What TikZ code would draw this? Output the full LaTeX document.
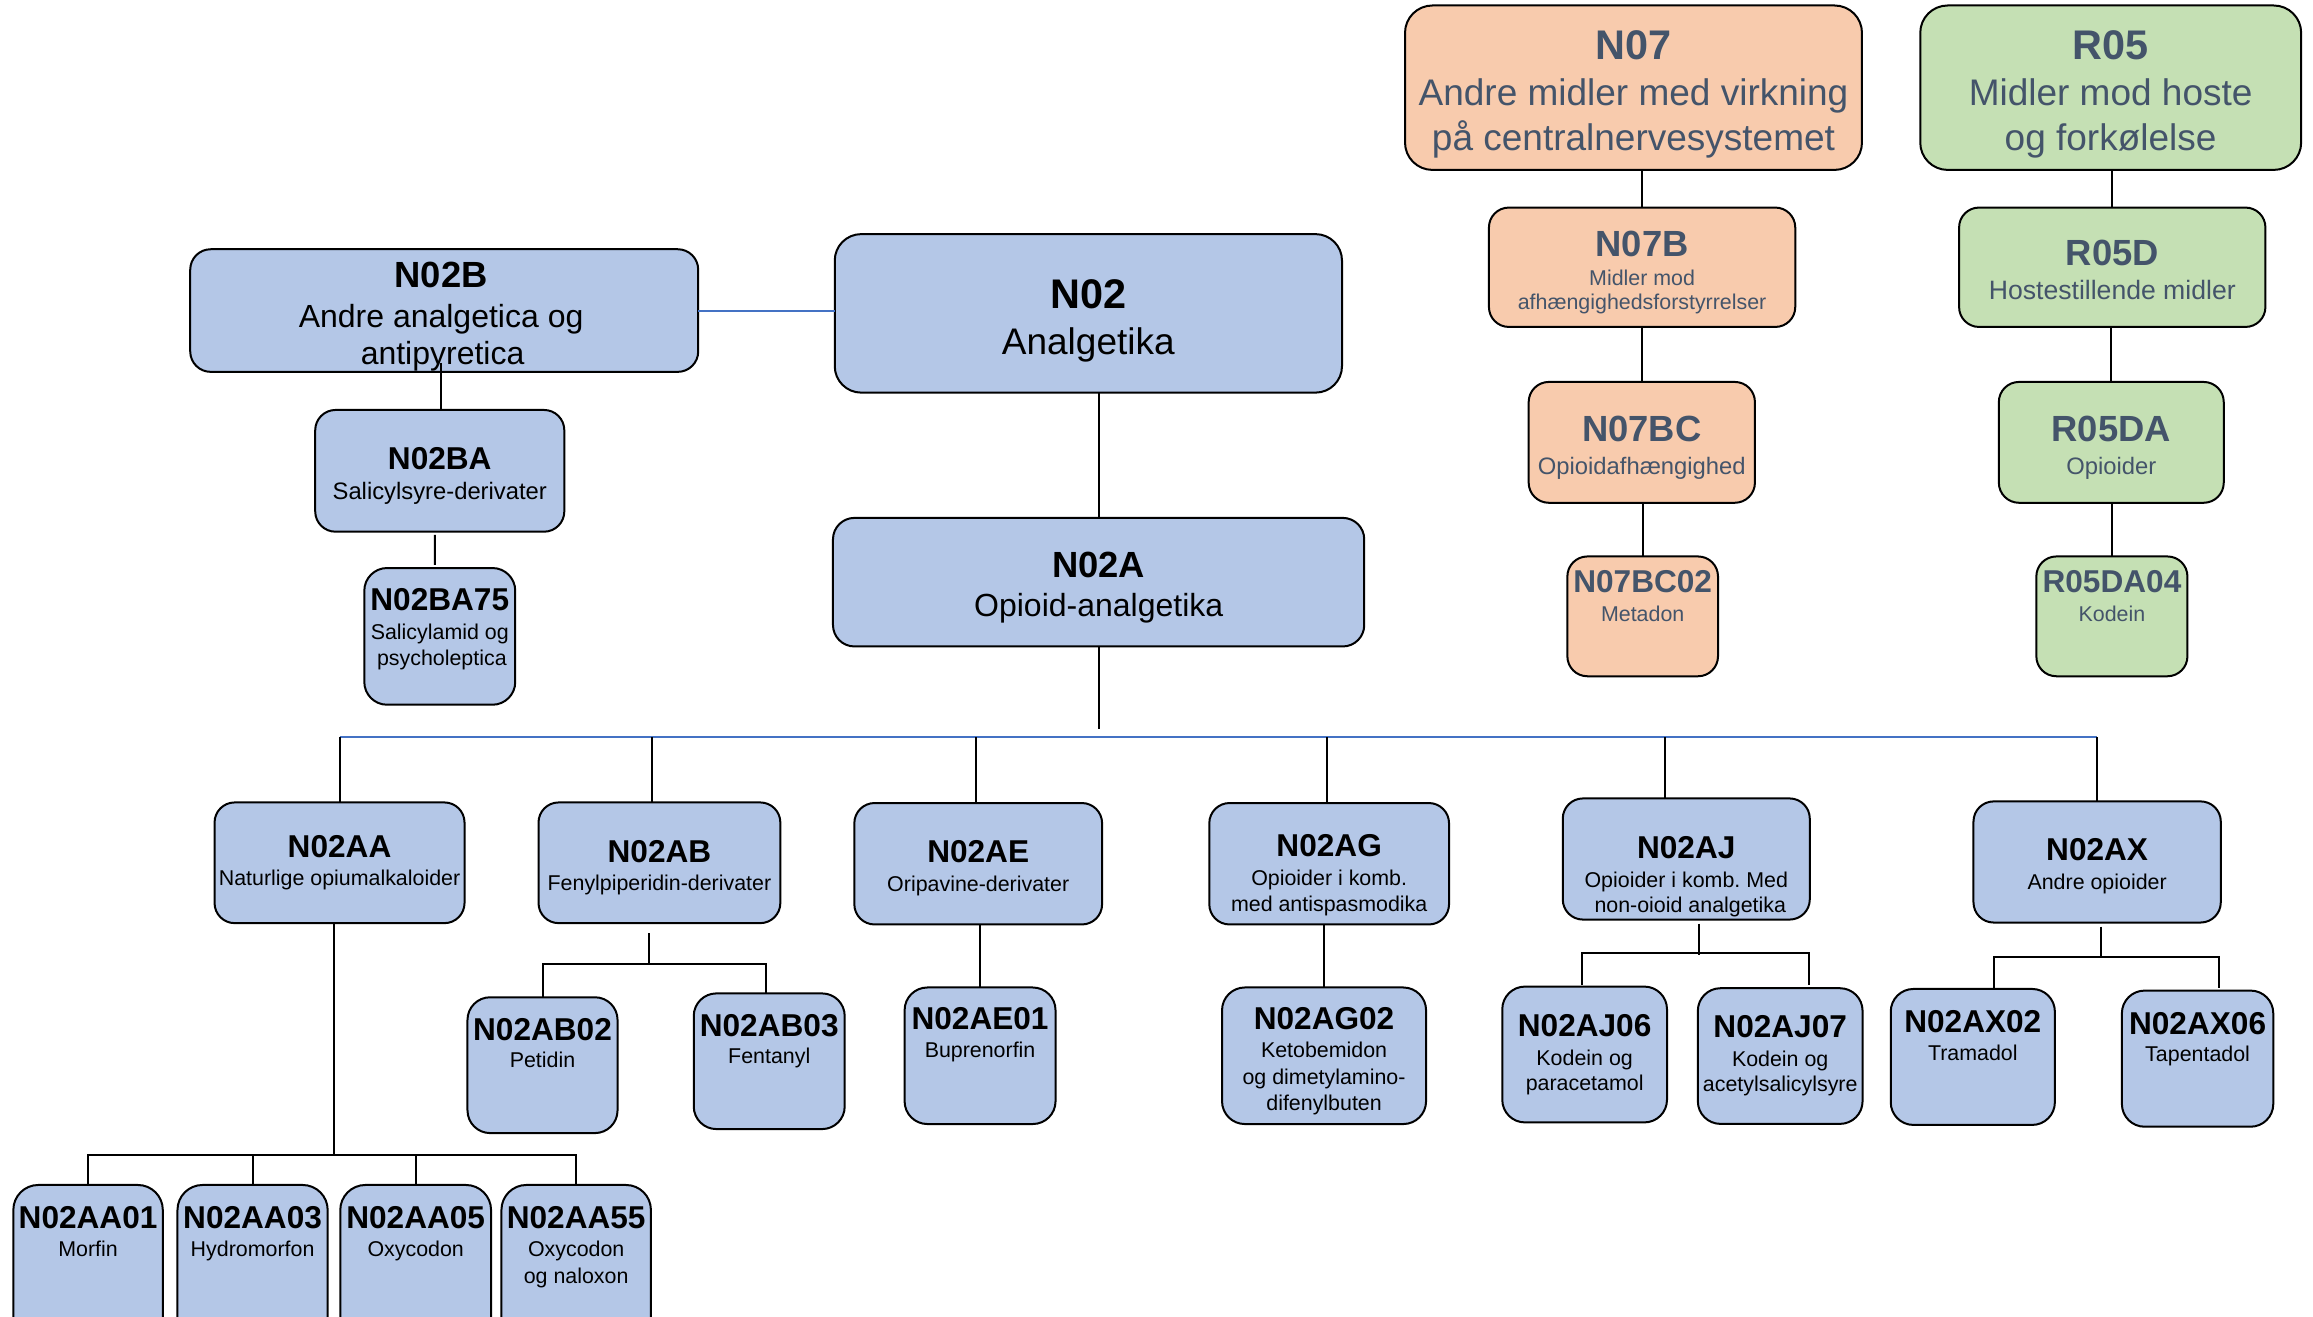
\documentclass[tikz,border=0pt]{standalone}
\usepackage{fontspec}
\setmainfont{Liberation Sans}
\frenchspacing
\definecolor{boxblue}{HTML}{B4C7E7}
\definecolor{boxpeach}{HTML}{F8CBAD}
\definecolor{boxgreen}{HTML}{C5E0B4}
\definecolor{slate}{HTML}{44546A}
\definecolor{linkblue}{HTML}{4472C4}
\newcommand\fntA{\fontsize{20.7pt}{24pt}\selectfont\bfseries}
\newcommand\fntB{\fontsize{18.5pt}{22pt}\selectfont}
\newcommand\fntC{\fontsize{18.2pt}{22pt}\selectfont\bfseries}
\newcommand\fntD{\fontsize{16pt}{19pt}\selectfont}
\newcommand\fntE{\fontsize{15.8pt}{19pt}\selectfont\bfseries}
\newcommand\fntF{\fontsize{13.3pt}{16pt}\selectfont}
\newcommand\fntG{\fontsize{11.9pt}{14pt}\selectfont}
\newcommand\fntH{\fontsize{10.7pt}{13pt}\selectfont}
\newcommand\rbox[6]{%
  \pgfmathsetmacro\rbw{#5-#3}%
  \pgfmathsetmacro\rbh{#6-#4}%
  \pgfmathsetmacro\rbr{0.1667*min(\rbw,\rbh)}%
  \node[#2, minimum width=\rbw*0.74135pt, minimum height=\rbh*0.74135pt,
        rounded corners=\rbr*0.74135pt] (#1) at ({(#3+#5)/2},{(#4+#6)/2}) {};}
\tikzset{
  boxbase/.style={draw=black, line width=1pt, rectangle, inner sep=0pt, outer sep=0pt},
  bbox/.style={boxbase, fill=boxblue},
  pbox/.style={boxbase, fill=boxpeach},
  gbox/.style={boxbase, fill=boxgreen},
  conn/.style={line width=1pt, draw=black},
  bconn/.style={line width=1pt, draw=linkblue},
  tbase/.style={anchor=base, inner sep=0pt, outer sep=0pt},
  tA/.style={tbase, font=\fntA, yshift=-7.43pt},
  tB/.style={tbase, font=\fntB, yshift=-6.64pt},
  tC/.style={tbase, font=\fntC, yshift=-6.5pt},
  tD/.style={tbase, font=\fntD, yshift=-5.73pt},
  tE/.style={tbase, font=\fntE, yshift=-5.65pt},
  tF/.style={tbase, font=\fntF, yshift=-4.75pt},
  tG/.style={tbase, font=\fntG, yshift=-4.27pt},
  tH/.style={tbase, font=\fntH, yshift=-3.82pt},
}
\begin{document}
\begin{tikzpicture}[x=0.74135pt, y=-0.74135pt]
\useasboundingbox (0,0) rectangle (1560,888.25);

% ---------- boxes ----------
\rbox{N07}{pbox}{947.6}{3.7}{1255.8}{114.6}
\rbox{R05}{gbox}{1295.1}{3.7}{1552}{114.6}
\rbox{N07B}{pbox}{1004.2}{140}{1210.8}{220.5}
\rbox{R05D}{gbox}{1321.3}{140}{1527.9}{220.5}
\rbox{N07BC}{pbox}{1031}{257.6}{1183.6}{339.1}
\rbox{R05DA}{gbox}{1348.1}{257.6}{1499.8}{339.1}
\rbox{N07BC02}{pbox}{1057.1}{375.3}{1158.7}{456.1}
\rbox{R05DA04}{gbox}{1373.4}{375.3}{1475.3}{456.1}

\rbox{N02B}{bbox}{128.3}{168.1}{470.9}{250.8}
\rbox{N02}{bbox}{563}{157.9}{905.1}{264.8}
\rbox{N02BA}{bbox}{212.6}{276.5}{380.6}{358.6}
\rbox{N02BA75}{bbox}{245.7}{383.1}{347.5}{475.3}
\rbox{N02A}{bbox}{561.8}{349.3}{920.1}{436}

\rbox{N02AA}{bbox}{144.7}{541.2}{313.3}{622.6}
\rbox{N02AB}{bbox}{363.2}{541.2}{526.3}{622.6}
\rbox{N02AE}{bbox}{576.2}{541.6}{743.3}{623.5}
\rbox{N02AG}{bbox}{815.6}{541.6}{977.3}{623.5}
\rbox{N02AJ}{bbox}{1054}{538.5}{1220.6}{620.2}
\rbox{N02AX}{bbox}{1331}{540.5}{1497.8}{622.2}

\rbox{N02AA01}{bbox}{9}{799.2}{109.8}{920}
\rbox{N02AA03}{bbox}{119.7}{799.2}{221}{920}
\rbox{N02AA05}{bbox}{229.5}{799.2}{331.2}{920}
\rbox{N02AA55}{bbox}{338.2}{799.2}{439}{920}
\rbox{N02AB02}{bbox}{315.3}{672.6}{416.5}{764.2}
\rbox{N02AB03}{bbox}{467.9}{670}{569.7}{761.5}
\rbox{N02AE01}{bbox}{610.1}{666}{711.9}{758.1}
\rbox{N02AG02}{bbox}{824.2}{666}{961.8}{758.1}
\rbox{N02AJ06}{bbox}{1013.2}{665.4}{1124.3}{757}
\rbox{N02AJ07}{bbox}{1145.1}{666.5}{1256.2}{758}
\rbox{N02AX02}{bbox}{1275.2}{667}{1385.9}{758.7}
\rbox{N02AX06}{bbox}{1431.1}{668.1}{1533.2}{759.9}

% ---------- connectors ----------
\draw[conn] (N07B.north) -- (N07B.north |- N07.south);
\draw[conn] (N07BC.north) -- (N07BC.north |- N07B.south);
\draw[conn] (N07BC02.north) -- (N07BC02.north |- N07BC.south);
\draw[conn] (R05D.north) -- (R05D.north |- R05.south);
\draw[conn] (R05DA.north) -- (R05DA.north |- R05D.south);
\draw[conn] (R05DA04.north) -- (R05DA04.north |- R05DA.south);

\draw[bconn] (N02B.east) -- (N02B.east -| N02.west);
\draw[conn] ([xshift=0.7pt,yshift=4.6pt]N02BA.north |- N02B.south) -- ([xshift=0.7pt]N02BA.north);
\draw[conn] ([xshift=-2.4pt,yshift=-1.6pt]N02BA.south) -- ([xshift=-2.4pt,yshift=1.6pt]N02BA75.north);
\draw[conn] (N02A.north) -- (N02A.north |- N02.south);

\draw[conn] (N02A.south) -- ++(0,56) coordinate (busTop);
\coordinate (busL) at (229,496.8);
\coordinate (busR) at (1414.5,496.8);
\draw[bconn] (busL) -- (busR);
\draw[conn] (N02AA.north) -- (N02AA.north |- busL);
\draw[conn] ([xshift=-3.5pt]N02AB.north) coordinate (dAB) -- (dAB |- busL);
\draw[conn] ([xshift=-0.9pt]N02AE.north) coordinate (dAE) -- (dAE |- busL);
\draw[conn] ([xshift=-1.3pt]N02AG.north) coordinate (dAG) -- (dAG |- busL);
\draw[conn] ([xshift=-10.4pt]N02AJ.north) coordinate (dAJ) -- (dAJ |- busL);
\draw[conn] (N02AX.north) -- (N02AX.north |- busR);

% N02AA children
\draw[conn] ([xshift=-3pt]N02AA.south) -- ++(0,156.2);
\draw[conn] (N02AA01.north) -- ++(0,-20.4) -| (N02AA55.north);
\draw[conn] (N02AA03.north) -- ++(0,-20.4);
\draw[conn] (N02AA05.north) -- ++(0,-20.4);
% N02AB children
\draw[conn] ([xshift=-5.4pt,yshift=-5pt]N02AB.south) -- ++(0,20.7);
\draw[conn] (N02AB02.north) -- ++(0,-22.6) -| ([xshift=-1.5pt]N02AB03.north);
% N02AE, N02AG children
\draw[conn] (N02AE01.north) -- (N02AE01.north |- N02AE.south);
\draw[conn] (N02AG02.north) -- (N02AG02.north |- N02AG.south);
% N02AJ children
\draw[conn] ([xshift=6.45pt,yshift=-2pt]N02AJ.south) -- ++(0,21);
\draw[conn] ([xshift=-1.3pt,yshift=0.7pt]N02AJ06.north) -- ++(0,-21.4) -| ([xshift=14.3pt,yshift=1.5pt]N02AJ07.north);
% N02AX children
\draw[conn] ([xshift=1.7pt,yshift=-2pt]N02AX.south) -- ++(0,21.3);
\draw[conn] ([xshift=10.5pt,yshift=0.4pt]N02AX02.north) -- ++(0,-20.7) -| ([xshift=10.5pt,yshift=1.2pt]N02AX06.north);

% ---------- texts ----------
\begin{scope}[every node/.append style={text=slate}]
\node[tA] (tN07a) at (1101.7,30.0) {N07};
\node[tB] (tN07b) at (1101.7,61.9) {Andre midler med virkning};
\node[tB] (tN07c) at (1101.7,92.3) {på centralnervesystemet};
\node[tA] (tR05a) at (1423.5,30.0) {R05};
\node[tB] (tR05b) at (1423.5,61.9) {Midler mod hoste};
\node[tB] (tR05c) at (1423.5,92.3) {og forkølelse};
\node[tC] (tN07Ba) at (1107.5,164.1) {N07B};
\node[tH] (tN07Bb) at (1107.5,187.3) {Midler mod};
\node[tH] (tN07Bc) at (1107.5,203.7) {afhængighedsforstyrrelser};
\node[tC] (tR05Da) at (1424.6,170.3) {R05D};
\node[tF] (tR05Db) at (1424.6,195.7) {Hostestillende midler};
\node[tC] (tN07BCa) at (1107.3,288.9) {N07BC};
\node[tG] (tN07BCb) at (1107.3,314.3) {Opioidafhængighed};
\node[tC] (tR05DAa) at (1424,288.9) {R05DA};
\node[tG] (tR05DAb) at (1424,314.3) {Opioider};
\node[tE] (tN07BC02a) at (1107.9,392.3) {N07BC02};
\node[tH] (tN07BC02b) at (1107.9,414) {Metadon};
\node[tE] (tR05DA04a) at (1424.4,392.3) {R05DA04};
\node[tH] (tR05DA04b) at (1424.4,414) {Kodein};
\end{scope}

\node[tC] (tN02Ba) at (297.5,184.9) {N02B};
\node[tD] (tN02Bb) at (297.5,213.1) {Andre analgetica og};
\node[tD] (tN02Bc) at (298.5,238.4) {antipyretica};
\node[tA] (tN02a) at (734,198.2) {N02};
\node[tB] (tN02b) at (734,229.8) {Analgetika};
\node[tE] (tN02BAa) at (296.6,308.7) {N02BA};
\node[tG] (tN02BAb) at (296.6,331.3) {Salicylsyre-derivater};
\node[tE] (tN02BA75a) at (296.6,404.1) {N02BA75};
\node[tH] (tN02BA75b) at (296.6,426.4) {Salicylamid og};
\node[tH] (tN02BA75c) at (298,443.5) {psycholeptica};
\node[tC] (tN02Aa) at (741,380.9) {N02A};
\node[tD] (tN02Ab) at (741,408.2) {Opioid-analgetika};

\node[tE] (tN02AAa) at (229,570.9) {N02AA};
\node[tH] (tN02AAb) at (229,592.4) {Naturlige opiumalkaloider};
\node[tE] (tN02ABa) at (444.75,573.8) {N02AB};
\node[tH] (tN02ABb) at (444.75,595.6) {Fenylpiperidin-derivater};
\node[tE] (tN02AEa) at (659.75,574.3) {N02AE};
\node[tH] (tN02AEb) at (659.75,596.4) {Oripavine-derivater};
\node[tE] (tN02AGa) at (896.45,569.8) {N02AG};
\node[tH] (tN02AGb) at (896.45,592.2) {Opioider i komb.};
\node[tH] (tN02AGc) at (896.45,609.4) {med antispasmodika};
\node[tE] (tN02AJa) at (1137.3,571.2) {N02AJ};
\node[tH] (tN02AJb) at (1137.3,593.4) {Opioider i komb. Med};
\node[tH] (tN02AJc) at (1140,610.2) {non-oioid analgetika};
\node[tE] (tN02AXa) at (1414.4,573) {N02AX};
\node[tH] (tN02AXb) at (1414.4,594.8) {Andre opioider};

\node[tE] (tN02AB02a) at (365.9,693.8) {N02AB02};
\node[tH] (tN02AB02b) at (365.9,715) {Petidin};
\node[tE] (tN02AB03a) at (518.8,691.2) {N02AB03};
\node[tH] (tN02AB03b) at (518.8,712.4) {Fentanyl};
\node[tE] (tN02AE01a) at (661,686.7) {N02AE01};
\node[tH] (tN02AE01b) at (661,708.4) {Buprenorfin};
\node[tE] (tN02AG02a) at (893,686.7) {N02AG02};
\node[tH] (tN02AG02b) at (893,708.4) {Ketobemidon};
\node[tH] (tN02AG02c) at (893,726.2) {og dimetylamino-};
\node[tH] (tN02AG02d) at (893,743.5) {difenylbuten};
\node[tE] (tN02AJ06a) at (1068.75,691.2) {N02AJ06};
\node[tH] (tN02AJ06b) at (1068.75,713.2) {Kodein og};
\node[tH] (tN02AJ06c) at (1068.75,730.2) {paracetamol};
\node[tE] (tN02AJ07a) at (1200.65,692.1) {N02AJ07};
\node[tH] (tN02AJ07b) at (1200.65,714.3) {Kodein og};
\node[tH] (tN02AJ07c) at (1200.65,731) {acetylsalicylsyre};
\node[tE] (tN02AX02a) at (1330.55,688.5) {N02AX02};
\node[tH] (tN02AX02b) at (1330.55,709.8) {Tramadol};
\node[tE] (tN02AX06a) at (1482.15,689.9) {N02AX06};
\node[tH] (tN02AX06b) at (1482.15,711) {Tapentadol};

\node[tE] (tN02AA01a) at (59.4,820.7) {N02AA01};
\node[tH] (tN02AA01b) at (59.4,842.5) {Morfin};
\node[tE] (tN02AA03a) at (170.35,820.7) {N02AA03};
\node[tH] (tN02AA03b) at (170.35,842.5) {Hydromorfon};
\node[tE] (tN02AA05a) at (280.35,820.7) {N02AA05};
\node[tH] (tN02AA05b) at (280.35,842.5) {Oxycodon};
\node[tE] (tN02AA55a) at (388.6,820.7) {N02AA55};
\node[tH] (tN02AA55b) at (388.6,842.5) {Oxycodon};
\node[tH] (tN02AA55c) at (388.6,860.3) {og naloxon};
\end{tikzpicture}
\end{document}
